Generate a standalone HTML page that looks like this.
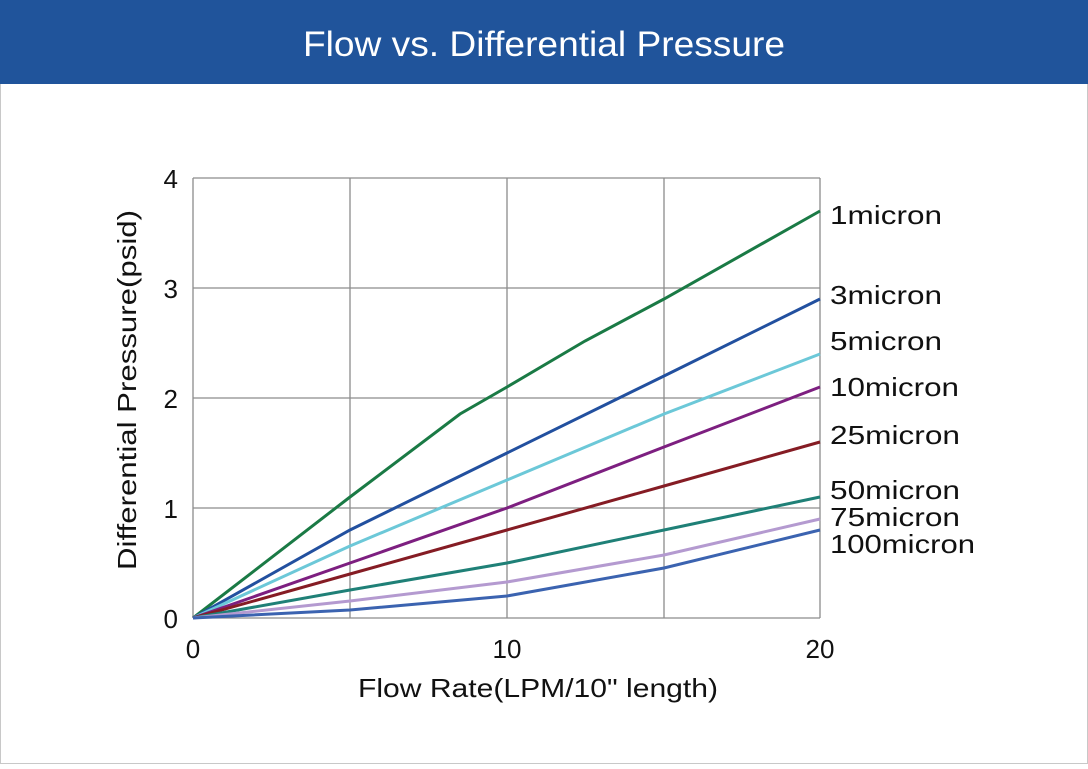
<!DOCTYPE html>
<html><head><meta charset="utf-8"><style>
html,body{margin:0;padding:0;background:#fff;}
body{width:1088px;height:764px;overflow:hidden;font-family:"Liberation Sans","DejaVu Sans",sans-serif;}
</style></head><body>
<svg width="1088" height="764" xmlns="http://www.w3.org/2000/svg" font-family="'Liberation Sans','DejaVu Sans',sans-serif">
<rect x="0.5" y="0.5" width="1087" height="763" fill="#fff" stroke="#c8c8c8"/>
<rect x="0" y="0" width="1088" height="84" fill="#20549b"/>
<text x="303" y="56" font-size="35" fill="#fff" textLength="482" lengthAdjust="spacingAndGlyphs">Flow vs. Differential Pressure</text>
<g stroke="#8c8c8c" stroke-width="1.3" fill="none">
<line x1="193" y1="178" x2="820" y2="178"/>
<line x1="193" y1="288" x2="820" y2="288"/>
<line x1="193" y1="398" x2="820" y2="398"/>
<line x1="193" y1="508" x2="820" y2="508"/>
<line x1="193" y1="618" x2="820" y2="618"/>
<line x1="193" y1="178" x2="193" y2="618"/>
<line x1="350" y1="178" x2="350" y2="618"/>
<line x1="507" y1="178" x2="507" y2="618"/>
<line x1="664" y1="178" x2="664" y2="618"/>
<line x1="820" y1="178" x2="820" y2="618"/>
</g>
<g fill="none" stroke-width="3">
<polyline stroke="#1a7a45" points="193,618 350,497 460,414 507,387 585,341 664,299 820,211"/>
<polyline stroke="#22509f" points="193,618 350,530 507,453 664,376 820,299"/>
<polyline stroke="#6cc8d8" points="193,618 350,546 507,480 664,414 820,354"/>
<polyline stroke="#7d1f80" points="193,618 350,563 507,508 664,447 820,387"/>
<polyline stroke="#851c24" points="193,618 350,574 507,530 664,486 820,442"/>
<polyline stroke="#1f8077" points="193,618 350,590 507,563 664,530 820,497"/>
<polyline stroke="#b49ad0" points="193,618 350,601 507,582 664,555 820,519"/>
<polyline stroke="#3b63b0" points="193,618 350,610 507,596 664,568 820,530"/>
</g>
<g font-size="26" fill="#111">
<text x="178" y="188" text-anchor="end">4</text>
<text x="178" y="298" text-anchor="end">3</text>
<text x="178" y="408" text-anchor="end">2</text>
<text x="178" y="518" text-anchor="end">1</text>
<text x="178" y="628" text-anchor="end">0</text>
<text x="193" y="658" text-anchor="middle">0</text>
<text x="507" y="658" text-anchor="middle">10</text>
<text x="820" y="658" text-anchor="middle">20</text>
<text x="358" y="697" textLength="360" lengthAdjust="spacingAndGlyphs">Flow Rate(LPM/10" length)</text>
<text transform="translate(136,570) rotate(-90)" textLength="360" lengthAdjust="spacingAndGlyphs">Differential Pressure(psid)</text>
<text x="830" y="224" textLength="112" lengthAdjust="spacingAndGlyphs">1micron</text>
<text x="830" y="304" textLength="112" lengthAdjust="spacingAndGlyphs">3micron</text>
<text x="830" y="350" textLength="112" lengthAdjust="spacingAndGlyphs">5micron</text>
<text x="830" y="396" textLength="129" lengthAdjust="spacingAndGlyphs">10micron</text>
<text x="830" y="444" textLength="130" lengthAdjust="spacingAndGlyphs">25micron</text>
<text x="830" y="499" textLength="130" lengthAdjust="spacingAndGlyphs">50micron</text>
<text x="830" y="526" textLength="130" lengthAdjust="spacingAndGlyphs">75micron</text>
<text x="830" y="553" textLength="145" lengthAdjust="spacingAndGlyphs">100micron</text>
</g>
</svg>
</body></html>
